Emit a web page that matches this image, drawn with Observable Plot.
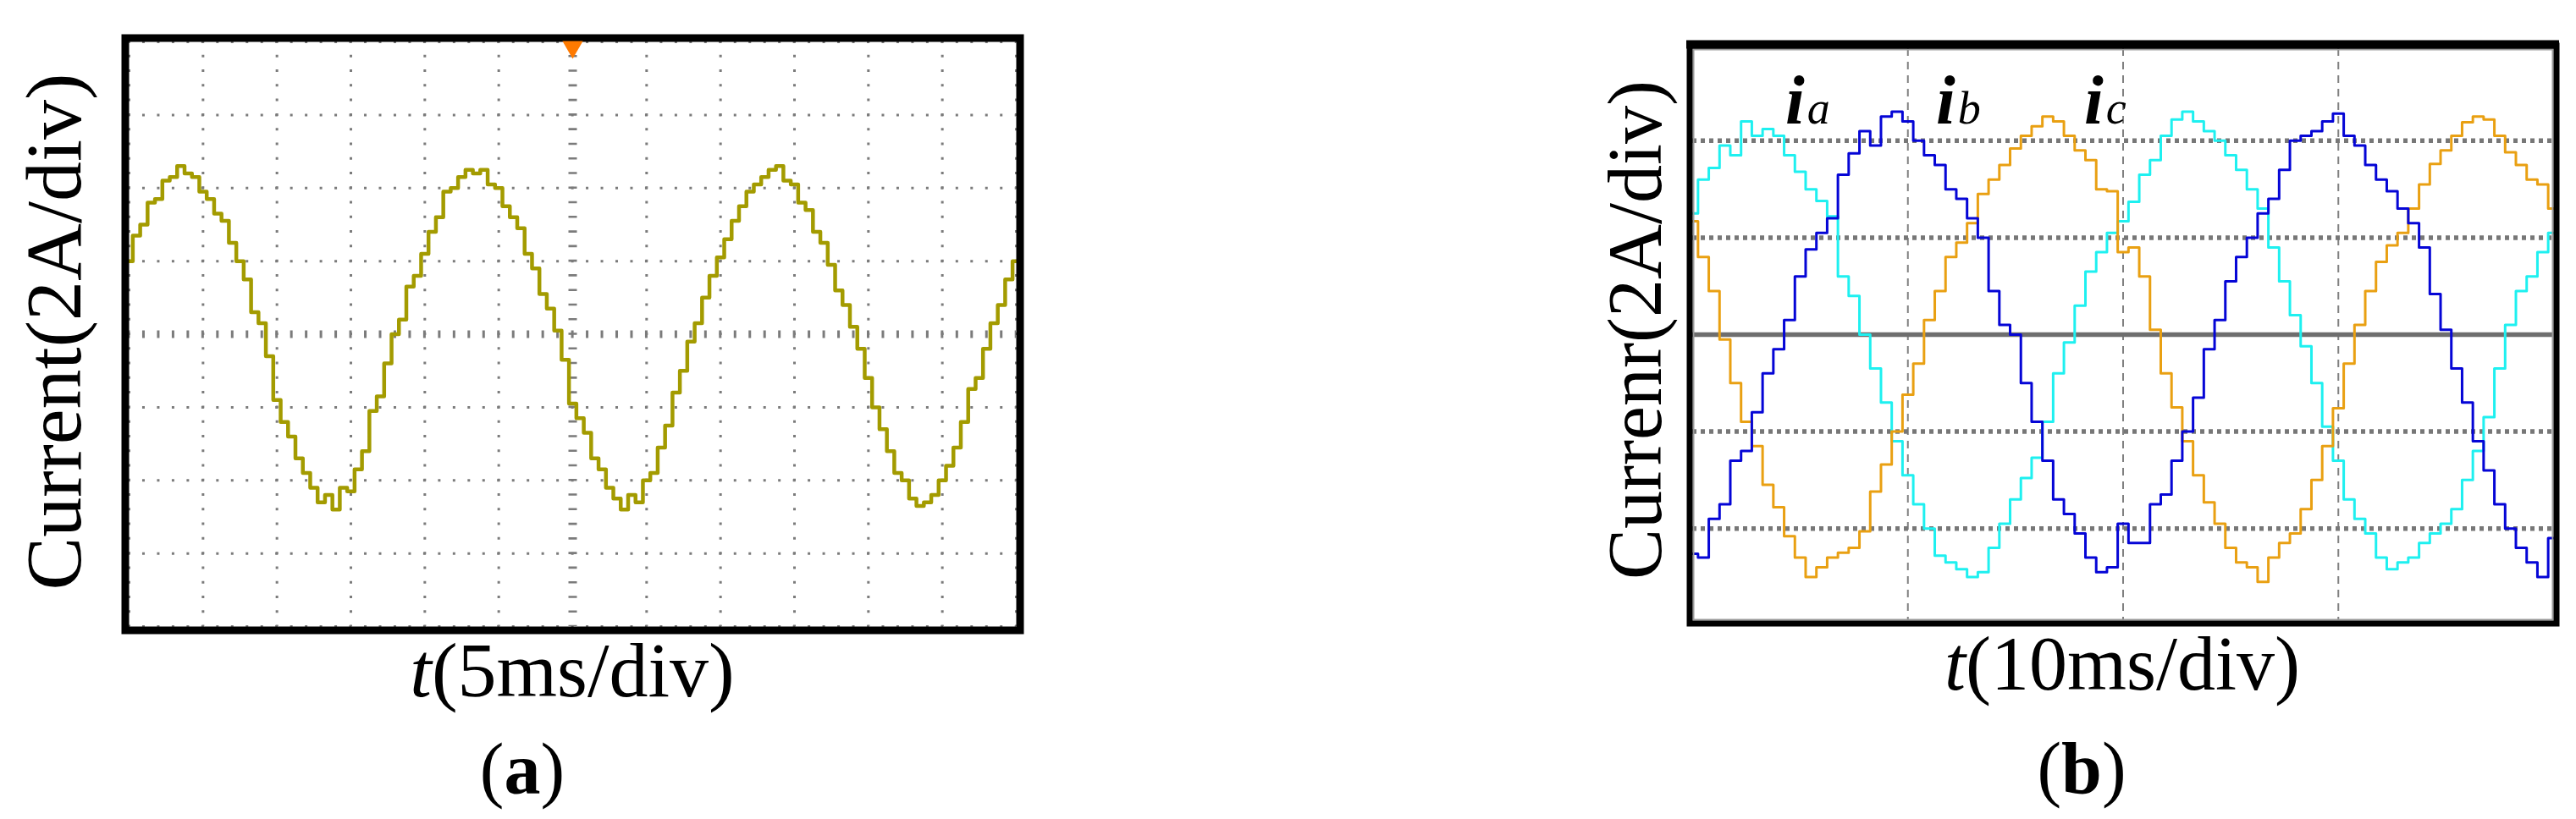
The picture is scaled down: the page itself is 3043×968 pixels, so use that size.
<!DOCTYPE html>
<html><head><meta charset="utf-8">
<script src="https://cdn.jsdelivr.net/npm/d3@7"></script>
<script src="https://cdn.jsdelivr.net/npm/@observablehq/plot@0.6"></script>
<style>
html,body{margin:0;padding:0;background:#fff;}
#fig{position:relative;width:3043px;height:968px;overflow:hidden;background:#fff;}
#fig svg{position:absolute;top:0;max-width:none;overflow:visible;}
</style></head><body><div id="fig"></div>
<script>
// ---------- Panel (a): single-phase current, 5 ms/div, 2 A/div ----------
const aStep = 0.1; // divisions between samples
const aCurrent = [
 1.0, 1.35, 1.5, 1.8, 1.85, 2.1, 2.15, 2.3, 2.2, 2.15,
 1.95, 1.85, 1.65, 1.55, 1.25, 1.0, 0.75, 0.3, 0.15, -0.3,
 -0.9, -1.2, -1.4, -1.7, -1.9, -2.1, -2.3, -2.2, -2.4, -2.1,
 -2.15, -1.85, -1.6, -1.05, -0.85, -0.4, 0.0, 0.2, 0.65, 0.8,
 1.1, 1.4, 1.6, 1.95, 2.0, 2.15, 2.25, 2.2, 2.25, 2.05,
 2.0, 1.75, 1.6, 1.45, 1.1, 0.9, 0.55, 0.35, 0.05, -0.35,
 -0.95, -1.15, -1.35, -1.7, -1.85, -2.1, -2.25, -2.4, -2.2, -2.3,
 -2.0, -1.9, -1.55, -1.25, -0.8, -0.5, -0.1, 0.15, 0.5, 0.8,
 1.05, 1.3, 1.55, 1.75, 1.95, 2.05, 2.15, 2.25, 2.3, 2.1,
 2.05, 1.8, 1.7, 1.4, 1.25, 0.95, 0.6, 0.4, 0.1, -0.2,
 -0.6, -1.0, -1.3, -1.6, -1.9, -2.0, -2.25, -2.35, -2.3, -2.2,
 -2.0, -1.8, -1.55, -1.2, -0.75, -0.6, -0.2, 0.15, 0.4, 0.75,
 1.0
];
const aDivX = [0, 1, 2, 3, 4, 5, 7, 8, 9, 10, 11, 12];
const aDivY = [-4, -3, -2, -1, 1, 2, 3, 4];
const aCenterX = [6];
const aCenterY = [0];
const aTrigger = [{t: 6, v: 4}];
const aDomainX = [0, 12];
const aDomainY = [-4, 4];

// ---------- Panel (b): three-phase currents, 10 ms/div, 2 A/div ----------
const bStep = 0.05;
const bIa = [
 1.25, 1.6, 1.72, 1.95, 1.85, 2.2, 2.05, 2.12, 2.05, 1.85,
 1.68, 1.5, 1.38, 1.22, 0.6, 0.4, 0.0, -0.35, -0.7, -1.1,
 -1.45, -1.75, -2.0, -2.28, -2.35, -2.42, -2.5, -2.45, -2.2, -1.95,
 -1.7, -1.48, -1.27, -0.9, -0.4, -0.08, 0.3, 0.65, 0.85, 1.05,
 1.17, 1.37, 1.65, 1.8, 2.05, 2.22, 2.3, 2.2, 2.1, 2.0,
 1.85, 1.7, 1.5, 1.3, 0.9, 0.55, 0.2, -0.12, -0.5, -0.95,
 -1.3, -1.7, -1.9, -2.05, -2.3, -2.42, -2.35, -2.3, -2.15, -2.05,
 -1.95, -1.8, -1.5, -1.2, -0.85, -0.35, 0.1, 0.45, 0.6, 0.85,
 1.05
];
const bIb = [
 -2.26, -2.3, -1.9, -1.75, -1.3, -1.2, -0.8, -0.4, -0.15, 0.15,
 0.6, 0.88, 1.05, 1.2, 1.65, 1.87, 2.1, 1.95, 2.25, 2.3,
 2.2, 2.0, 1.85, 1.75, 1.5, 1.4, 1.2, 1.0, 0.45, 0.1,
 0.0, -0.5, -0.9, -1.3, -1.7, -1.85, -2.05, -2.3, -2.45, -2.4,
 -1.95, -2.15, -2.15, -1.75, -1.65, -1.3, -1.0, -0.65, -0.15, 0.15,
 0.55, 0.8, 1.0, 1.25, 1.4, 1.7, 2.0, 2.05, 2.1, 2.2,
 2.28, 2.05, 1.95, 1.75, 1.6, 1.48, 1.3, 1.15, 0.9, 0.42,
 0.05, -0.35, -0.7, -1.1, -1.4, -1.75, -2.0, -2.2, -2.35, -2.5,
 -2.1
];
const bIc = [
 1.17, 0.8, 0.45, -0.05, -0.5, -0.9, -1.15, -1.55, -1.78, -2.08,
 -2.3, -2.5, -2.4, -2.3, -2.25, -2.2, -2.03, -1.62, -1.34, -1.0,
 -0.62, -0.3, 0.15, 0.45, 0.8, 0.95, 1.15, 1.45, 1.6, 1.75,
 1.92, 2.05, 2.15, 2.25, 2.2, 2.05, 1.9, 1.8, 1.5, 1.48,
 0.85, 0.9, 0.6, 0.05, -0.4, -0.75, -1.1, -1.45, -1.73, -1.95,
 -2.2, -2.35, -2.4, -2.55, -2.3, -2.15, -2.05, -1.8, -1.5, -1.15,
 -0.76, -0.3, 0.1, 0.45, 0.75, 0.92, 1.05, 1.3, 1.55, 1.76,
 1.9, 2.05, 2.19, 2.25, 2.22, 2.05, 1.88, 1.75, 1.6, 1.55,
 1.3
];
const bPhases = ["ia", "ic", "ib"];
const bColors = ["#1ef0f0", "#e9a012", "#0505d6"];
const bDivX = [1, 2, 3];
const bDivY = [-2, -1, 1, 2];
const bZero = [0];
const bTop = [2.95];
const bDomainX = [0, 4];
const bDomainY = [-2.95, 2.95];

// ---------- Texts ----------
const aYLabel = "Current(2A/div)";
const aXLabel = [["t", "italic"], ["(5ms/div)", "normal"]];
const aTag = ["(", "a", ")"];
const bYLabel = "Currenr(2A/div)";
const bXLabel = [["t", "italic"], ["(10ms/div)", "normal"]];
const bTag = ["(", "b", ")"];
const bSeriesLabels = [["i", "a"], ["i", "b"], ["i", "c"]];

// ---------- tables ----------
const aTable = aCurrent.map((v, i) => ({t: i * aStep, v}));
const bSeries = {ia: bIa, ib: bIb, ic: bIc};
const bTable = bPhases.flatMap(p => bSeries[p].map((v, i) => ({t: i * bStep, v, phase: p})));

const grey = "#7b7b7b";
const serif = "'Liberation Serif', 'Times New Roman', serif";

const plotA = Plot.plot({
  width: 1520, height: 968,
  marginLeft: 152, marginRight: 320, marginTop: 49, marginBottom: 228,
  x: {domain: aDomainX, axis: null},
  y: {domain: aDomainY, axis: null},
  marks: [
    Plot.ruleX(aDivX, {stroke: grey, strokeWidth: 3, strokeDasharray: "3,14.275", strokeDashoffset: 1.5}),
    Plot.ruleY(aDivY, {stroke: grey, strokeWidth: 3, strokeDasharray: "3,14.47", strokeDashoffset: 1.5}),
    Plot.ruleY(aCenterY, {stroke: grey, strokeWidth: 9, strokeDasharray: "3,14.47", strokeDashoffset: 1.5}),
    Plot.ruleX(aCenterX, {stroke: grey, strokeWidth: 10, strokeDasharray: "2.6,14.675", strokeDashoffset: 1.3}),
    Plot.line(aTable, {x: "t", y: "v", stroke: "#a39b00", strokeWidth: 4.5, curve: "step"}),
    Plot.frame({stroke: "black", strokeWidth: 9, inset: -4.5}),
    Plot.dot(aTrigger, {x: "t", y: "v", symbol: "triangle", r: 9, fill: "#ff7a00", rotate: 180, dy: 6})
  ]
});

const plotB = Plot.plot({
  width: 1523, height: 968,
  marginLeft: 479, marginRight: 27, marginTop: 57, marginBottom: 235,
  x: {domain: bDomainX, axis: null},
  y: {domain: bDomainY, axis: null},
  color: {domain: bPhases, range: bColors},
  marks: [
    Plot.ruleX(bDivX, {stroke: "#808080", strokeWidth: 2, strokeDasharray: "9,7"}),
    Plot.ruleY(bDivY, {stroke: "#777777", strokeWidth: 5.5, strokeDasharray: "5,5"}),
    Plot.ruleY(bZero, {stroke: "#6e6e6e", strokeWidth: 5.5}),
    Plot.line(bTable, {x: "t", y: "v", z: "phase", stroke: "phase", strokeWidth: 3, curve: "step"}),
    Plot.frame({stroke: "#9a9a9a", strokeWidth: 2, inset: 1}),
    Plot.frame({stroke: "black", strokeWidth: 7, inset: -3.5}),
    Plot.ruleY(bTop, {stroke: "black", strokeWidth: 10, dy: -5, insetLeft: -7, insetRight: -7})
  ]
});

const fig = document.getElementById("fig");
plotA.style.left = "0px";
plotB.style.left = "1520px";
fig.appendChild(plotA);
fig.appendChild(plotB);

function addText(svg, {x, y, rotate, anchor = "middle", size, parts}) {
  const t = d3.select(svg).append("text")
    .attr("text-anchor", anchor)
    .attr("transform", `translate(${x},${y})` + (rotate ? ` rotate(${rotate})` : ""))
    .attr("fill", "black")
    .style("font-family", serif)
    .style("font-size", size + "px");
  for (const p of parts) {
    const s = t.append("tspan").text(p.text)
      .style("font-style", p.italic ? "italic" : "normal")
      .style("font-weight", p.bold ? "bold" : "normal")
      .style("font-size", (p.size || size) + "px");
    if (p.dx) s.attr("dx", p.dx);
  }
}

// Panel (a) texts
addText(plotA, {x: 95, y: 392, rotate: -90, size: 94, parts: [{text: aYLabel}]});
addText(plotA, {x: 676, y: 823, size: 92, parts: aXLabel.map(([text, st]) => ({text, italic: st === "italic"}))});
addText(plotA, {x: 617, y: 938, size: 86, parts: aTag.map((text, i) => ({text, bold: i === 1}))});

// Panel (b) texts
addText(plotB, {x: 442, y: 390, rotate: -90, size: 90, parts: [{text: bYLabel}]});
addText(plotB, {x: 987, y: 815, size: 90, parts: bXLabel.map(([text, st]) => ({text, italic: st === "italic"}))});
addText(plotB, {x: 939, y: 937, size: 86, parts: bTag.map((text, i) => ({text, bold: i === 1}))});
const seriesLabelX = [589, 767, 942];
bSeriesLabels.forEach(([main, sub], i) => {
  addText(plotB, {x: seriesLabelX[i], y: 146, anchor: "start", size: 82, parts: [
    {text: main, italic: true, bold: true},
    {text: sub, italic: true, size: 54, dx: 3}
  ]});
});
</script>
</body></html>
